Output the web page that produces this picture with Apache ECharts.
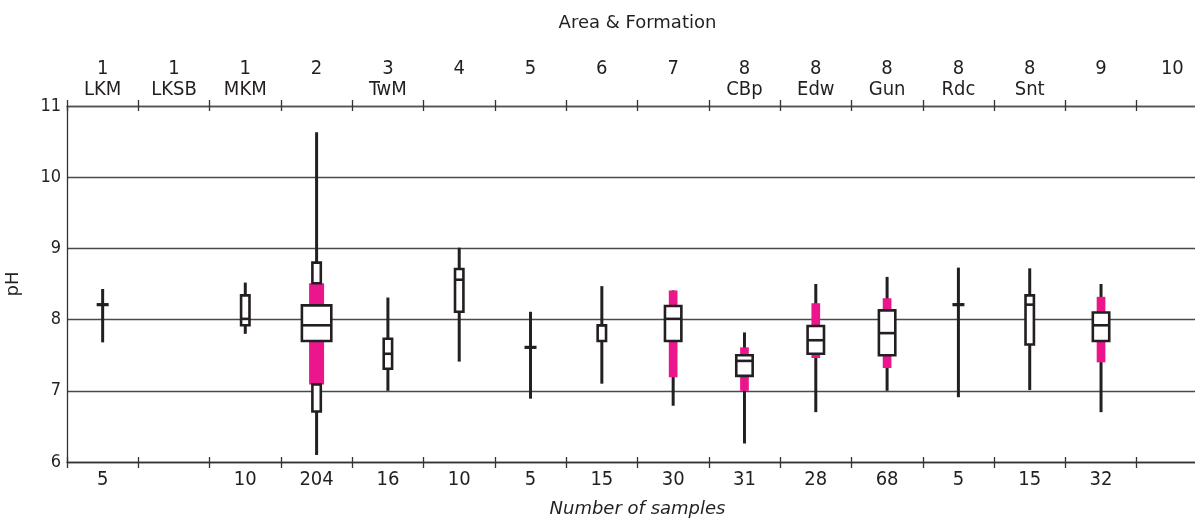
<!DOCTYPE html>
<html>
<head>
<meta charset="utf-8">
<title>pH by area and formation</title>
<script src="https://cdn.jsdelivr.net/npm/echarts@6/dist/echarts.min.js"></script>
<style>
  html, body { margin: 0; padding: 0; background: #fff; }
  #chart { width: 1195px; height: 519px; }
</style>
</head>
<body>
<div id="chart"></div>
<script>
// Area number and formation code for each column
const areas      = ['1', '1', '1', '2', '3', '4', '5', '6', '7', '8', '8', '8', '8', '8', '9', '10'];
const formations = ['LKM', 'LKSB', 'MKM', '', 'TwM', '', '', '', '', 'CBp', 'Edw', 'Gun', 'Rdc', 'Snt', '', ''];
const sampleCounts = [5, null, 10, 204, 16, 10, 5, 15, 30, 31, 28, 68, 5, 15, 32, null];

// pH statistics per column (null = not shown)
const phMin    = [7.68, null, 7.80, 6.10, 7.00, 7.41, 6.89, 7.10, 6.79, 6.26, 6.70, 7.00, 6.91, 7.01, 6.70, null];
const phP5     = [null, null, null, 6.71, null, null, null, null, null, null, null, null, null, null, null, null];
const phP10    = [null, null, null, 7.09, null, null, null, null, 7.19, 7.00, 7.46, 7.32, null, null, 7.40, null];
const phQ1     = [null, null, 7.92, 7.70, 7.31, 8.11, null, 7.70, 7.70, 7.21, 7.52, 7.50, null, 7.65, 7.70, null];
const phMedian = [8.21, null, 8.01, 7.92, 7.52, 8.56, 7.61, 7.92, 8.01, 7.42, 7.71, 7.81, 8.21, 8.21, 7.92, null];
const phQ3     = [null, null, 8.34, 8.20, 7.73, 8.71, null, 7.92, 8.19, 7.50, 7.91, 8.13, null, 8.34, 8.10, null];
const phP90    = [null, null, null, 8.51, null, null, null, null, 8.41, 7.61, 8.23, 8.30, null, null, 8.32, null];
const phP95    = [null, null, null, 8.80, null, null, null, null, null, null, null, null, null, null, null, null];
const phMax    = [8.43, null, 8.52, 10.63, 8.31, 9.01, 8.11, 8.47, 8.41, 7.82, 8.50, 8.60, 8.73, 8.72, 8.50, null];

// y-axis range
const yMin = 6, yMax = 11, yStep = 1;

const INK = '#231f20';
const PINK = '#ec168c';
const GRID_LINE = '#4a4a4a';
const CONDENSED = "'Liberation Sans Narrow', 'DejaVu Sans Condensed', 'Arial Narrow', sans-serif";
const WIDE = "'DejaVu Sans', Verdana, sans-serif";

const categories = areas.map((a, i) => i);
const topLabels = areas.map((a, i) => a + '\n' + (formations[i] || ' '));
const bottomLabels = sampleCounts.map(n => (n == null ? '' : String(n)));

const dash = v => (v == null ? '-' : v);
const boxData = [];
for (let i = 0; i < areas.length; i++) {
  if (phMin[i] == null) continue;
  boxData.push([i, phMin[i], dash(phP5[i]), dash(phP10[i]), dash(phQ1[i]), phMedian[i],
                dash(phQ3[i]), dash(phP90[i]), dash(phP95[i]), phMax[i], sampleCounts[i]]);
}

function renderBox(params, api) {
  const cat = api.value(0);
  const n = api.value(10);
  const x = api.coord([cat, yMin])[0];
  const py = v => api.coord([cat, v])[1];
  const has = d => !isNaN(api.value(d));
  const v = d => api.value(d);
  const children = [];
  const edge = 2.6;

  // widths grow with sample count
  let boxW, pinkW, tailW;
  if (n >= 100) { boxW = 32; pinkW = 15; tailW = 11; }
  else if (n >= 28) { boxW = 19; pinkW = 8.7; tailW = 8.7; }
  else { boxW = 11; pinkW = 8; tailW = 8; }

  const rect = (lo, hi, w, fill, stroke) => {
    const yTop = py(hi), yBot = py(lo);
    const inner = stroke ? w - edge : w;
    return {
      type: 'rect',
      shape: { x: x - inner / 2, y: yTop, width: inner, height: yBot - yTop },
      style: stroke ? { fill: fill, stroke: INK, lineWidth: edge } : { fill: fill }
    };
  };

  // whisker: min to max
  children.push({
    type: 'line',
    shape: { x1: x, y1: py(v(9)), x2: x, y2: py(v(1)) },
    style: { stroke: INK, lineWidth: 3 }
  });

  // 10th-90th percentile band
  if (has(3) && has(7)) children.push(rect(v(3), v(7), pinkW, PINK, false));
  // 5th-10th and 90th-95th tails
  if (has(2) && has(3)) children.push(rect(v(2), v(3), tailW, '#fff', true));
  if (has(7) && has(8)) children.push(rect(v(7), v(8), tailW, '#fff', true));

  if (has(4) && has(6)) {
    // interquartile box with median
    children.push(rect(v(4), v(6), boxW, '#fff', true));
    const ym = py(v(5));
    const half = (boxW - edge) / 2;
    children.push({
      type: 'line',
      shape: { x1: x - half, y1: ym, x2: x + half, y2: ym },
      style: { stroke: INK, lineWidth: edge }
    });
  } else {
    // small samples: median tick only
    const ym = py(v(5));
    children.push({
      type: 'rect',
      shape: { x: x - 6, y: ym - 1.6, width: 12, height: 3.2 },
      style: { fill: INK }
    });
  }
  return { type: 'group', children: children };
}

const chart = echarts.init(document.getElementById('chart'), null, { renderer: 'canvas' });

const tickStyle = { color: '#333', width: 1.3 };

chart.setOption({
  animation: false,
  backgroundColor: '#fff',
  grid: {
    left: 67, top: 106, bottom: 57, right: -13,
    containLabel: false,
    outerBoundsMode: 'none'
  },
  xAxis: [
    {
      type: 'category', position: 'bottom', data: categories,
      boundaryGap: true,
      axisLine: { show: true, lineStyle: { color: '#333', width: 1.3 } },
      axisTick: { show: true, inside: false, length: 6, lineStyle: tickStyle },
      axisLabel: {
        interval: 0, margin: 7, color: INK, fontSize: 20, fontFamily: CONDENSED, lineHeight: 21,
        formatter: (val, idx) => bottomLabels[idx]
      },
      splitLine: { show: false },
      name: 'Number of samples', nameLocation: 'middle', nameGap: 38,
      nameTextStyle: { fontFamily: WIDE, fontStyle: 'italic', fontSize: 18, color: INK }
    },
    {
      type: 'category', position: 'top', data: categories,
      boundaryGap: true,
      axisLine: { show: true, lineStyle: { color: '#555', width: 1.3 } },
      axisTick: { show: true, inside: false, length: 6, lineStyle: tickStyle },
      axisLabel: {
        interval: 0, margin: 6, color: INK, fontSize: 20, fontFamily: CONDENSED, lineHeight: 21,
        formatter: (val, idx) => topLabels[idx]
      },
      splitLine: { show: false },
      name: 'Area & Formation', nameLocation: 'middle', nameGap: 74,
      nameTextStyle: { fontFamily: WIDE, fontSize: 18, color: INK }
    },
    {
      type: 'category', position: 'bottom', data: categories, boundaryGap: true,
      axisLine: { show: false },
      axisTick: { show: true, inside: true, length: 5, lineStyle: tickStyle },
      axisLabel: { show: false }, splitLine: { show: false }
    },
    {
      type: 'category', position: 'top', data: categories, boundaryGap: true,
      axisLine: { show: false },
      axisTick: { show: true, inside: true, length: 5, lineStyle: tickStyle },
      axisLabel: { show: false }, splitLine: { show: false }
    }
  ],
  yAxis: {
    type: 'value', min: yMin, max: yMax, interval: yStep,
    axisLine: { show: true, lineStyle: { color: '#333', width: 1.3 } },
    axisTick: { show: false },
    axisLabel: { margin: 6, color: INK, fontSize: 18, fontFamily: CONDENSED },
    splitLine: { show: true, lineStyle: { color: GRID_LINE, width: 1.3 } },
    name: 'pH', nameLocation: 'middle', nameGap: 45,
    nameTextStyle: { fontFamily: WIDE, fontSize: 18, color: INK }
  },
  series: [{
    type: 'custom',
    xAxisIndex: 0, yAxisIndex: 0,
    renderItem: renderBox,
    encode: { x: 0, y: [1, 2, 3, 4, 5, 6, 7, 8, 9] },
    data: boxData,
    clip: false,
    silent: true
  }]
});
</script>
</body>
</html>
